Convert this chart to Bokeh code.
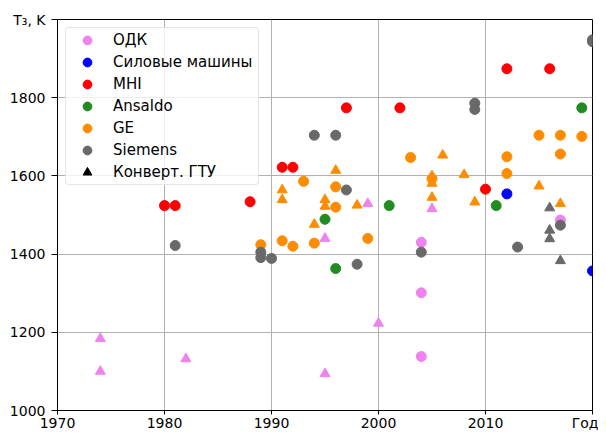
from bokeh.plotting import figure
from bokeh.models import Range1d, FixedTicker, Legend, LegendItem
from bokeh.embed import file_html
from bokeh.resources import INLINE

# ---------------- data ----------------
x_ticks = [1970, 1980, 1990, 2000, 2010, 2020]
x_tick_labels = ["1970", "1980", "1990", "2000", "2010", "Год"]
y_ticks = [1000, 1200, 1400, 1600, 1800, 2000]
y_tick_labels = ["1000", "1200", "1400", "1600", "1800", "T\u2083, K"]

odk_year = [2004, 2004, 2004, 2017]
odk_t = [1430, 1301, 1138, 1487]
odk_conv_year = [1974, 1974, 1982, 1995, 1995, 1999, 2000, 2005]
odk_conv_t = [1184, 1100, 1132, 1440, 1094, 1529, 1223, 1516]

sm_year = [2012, 2020]
sm_t = [1554, 1357]

mhi_year = [1980, 1981, 1988, 1991, 1992, 1997, 2002, 2010, 2012, 2016]
mhi_t = [1524, 1524, 1534, 1622, 1622, 1774, 1774, 1566, 1874, 1874]

ansaldo_year = [1995, 1996, 2001, 2011, 2019]
ansaldo_t = [1489, 1363, 1524, 1524, 1774]

ge_year = [1989, 1991, 1992, 1993, 1994, 1996, 1996, 1999, 2003, 2005,
           2012, 2012, 2015, 2017, 2017, 2019]
ge_t = [1424, 1434, 1420, 1586, 1428, 1572, 1520, 1440, 1647, 1593,
        1649, 1606, 1704, 1704, 1656, 1701]
ge_conv_year = [1991, 1991, 1994, 1995, 1995, 1996, 1998, 2005, 2005, 2005,
                2006, 2008, 2009, 2015, 2017]
ge_conv_t = [1564, 1539, 1476, 1539, 1522, 1614, 1525, 1600, 1581, 1545,
             1653, 1603, 1533, 1574, 1529]

siemens_year = [1981, 1989, 1989, 1990, 1994, 1996, 1997, 1998, 2004, 2009,
                2009, 2013, 2017, 2020, 2020]
siemens_t = [1422, 1405, 1391, 1389, 1704, 1704, 1564, 1374, 1405, 1786,
             1770, 1418, 1474, 1948, 1943]
siemens_conv_year = [2016, 2016, 2016, 2017]
siemens_conv_t = [1518, 1461, 1439, 1383]

series = [
    ("ОДК", "violet", odk_year, odk_t, odk_conv_year, odk_conv_t),
    ("Силовые машины", "blue", sm_year, sm_t, [], []),
    ("MHI", "red", mhi_year, mhi_t, [], []),
    ("Ansaldo", "forestgreen", ansaldo_year, ansaldo_t, [], []),
    ("GE", "darkorange", ge_year, ge_t, ge_conv_year, ge_conv_t),
    ("Siemens", "dimgray", siemens_year, siemens_t, siemens_conv_year, siemens_conv_t),
]
conv_label = "Конверт. ГТУ"

FONT = "DejaVu Sans"

p = figure(width=598, height=433, output_backend="svg", toolbar_location=None,
           x_range=Range1d(1970, 2020), y_range=Range1d(1000, 2000),
           min_border_left=57, min_border_right=6, min_border_top=19,
           min_border_bottom=15)
p.background_fill_color = "white"
p.border_fill_color = "white"
p.outline_line_color = "black"
p.outline_line_width = 1

p.xaxis.ticker = FixedTicker(ticks=x_ticks)
p.yaxis.ticker = FixedTicker(ticks=y_ticks)
p.xaxis.major_label_overrides = {t: l for t, l in zip(x_ticks, x_tick_labels)}
p.yaxis.major_label_overrides = {t: l for t, l in zip(y_ticks, y_tick_labels)}
for ax in (p.xaxis, p.yaxis):
    ax.axis_line_color = "black"
    ax.major_tick_line_color = "black"
    ax.major_tick_in = 0
    ax.minor_tick_line_color = None
    ax.major_label_text_font = FONT
    ax.major_label_text_font_size = "14px"
    ax.major_label_text_color = "black"
p.xaxis.major_tick_out = 4
p.xaxis.major_label_standoff = 0
p.xaxis.major_label_text_line_height = 0.9
p.yaxis.major_tick_out = 6
p.yaxis.major_label_standoff = 6

p.grid.grid_line_color = "#b0b0b0"
p.grid.grid_line_width = 1
p.xgrid.ticker = FixedTicker(ticks=x_ticks)
p.ygrid.ticker = FixedTicker(ticks=y_ticks)

items = []
for name, color, xs, ys, cxs, cys in series:
    r = p.scatter(xs, ys, marker="circle", size=10, fill_color=color,
                  line_color=color)
    if cxs:
        p.scatter(cxs, cys, marker="triangle", size=10, fill_color=color,
                  line_color=color)
    items.append(LegendItem(label=name, renderers=[r]))

# legend-only renderer for the converted-GTU marker (not drawn in the plot)
conv_key = p.scatter(siemens_conv_year[:1], siemens_conv_t[:1],
                     marker="triangle", size=10, fill_color="black",
                     line_color="black", visible=False)
items.append(LegendItem(label=conv_label, renderers=[conv_key]))

legend = Legend(items=items, location="top_left", margin=8,
                padding=dict(left=0, right=5, top=1, bottom=1),
                glyph_width=42, glyph_height=22, spacing=0,
                label_standoff=5, label_width=140, label_height=22,
                label_text_font=FONT, label_text_font_size="15px",
                label_text_color="black",
                border_line_color="#cccccc", border_line_width=1,
                background_fill_color="white", background_fill_alpha=0.8)
try:
    legend.border_radius = 4
except Exception:
    pass
p.add_layout(legend)

open("out.html", "w").write(file_html(p, INLINE))
